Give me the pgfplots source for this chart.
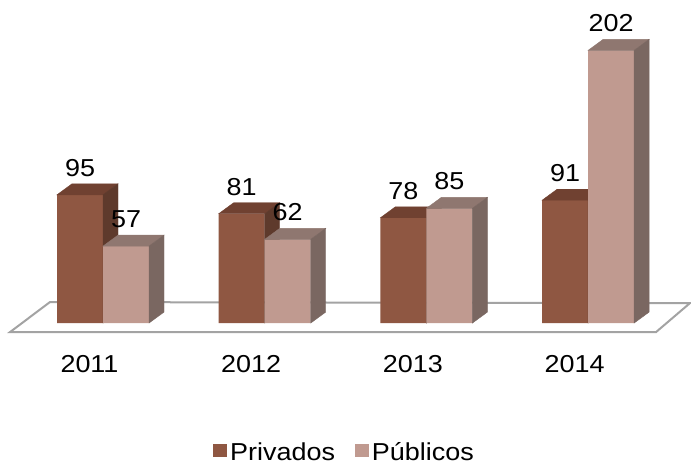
\documentclass[border=0pt]{standalone}
\usepackage{fontspec}
\setmainfont{Liberation Sans}[FakeStretch=1.1]
\usepackage{pgfplots}
\usepackage{pgfplotstable}
\pgfplotsset{compat=1.18}
\definecolor{privfront}{HTML}{8F5742}
\definecolor{privtop}{HTML}{704131}
\definecolor{privside}{HTML}{5E3A2C}
\definecolor{pubfront}{HTML}{C09A90}
\definecolor{pubtop}{HTML}{8F7770}
\definecolor{pubside}{HTML}{7A6761}
\definecolor{floorgray}{HTML}{A3A3A3}
\pgfplotstableread{
x priv pub
0 95 57
1 81 62
2 78 85
3 91 202
}\datatable
\begin{document}
\begin{tikzpicture}[font=\fontsize{24.5}{28}\selectfont]
\begin{axis}[
  x=161.7pt, y=1.35pt,
  xmin=-0.637, xmax=3.636, ymin=-104.4, ymax=239.3,
  axis line style={draw=none}, tick style={draw=none},
  ytick=\empty, xtick={0,1,2,3}, xticklabels={{2011},{2012},{2013},{2014}},
  xticklabel style={anchor=base, yshift=92pt, xshift=-13.5pt, inner sep=0pt},
  clip=false, clip mode=individual,
  /pgf/number format/assume math mode=true,
  legend columns=2,
  legend style={at={(rel axis cs:0.4993,0.0043)}, anchor=south, draw=none, fill=none,
    inner sep=0pt, nodes={inner xsep=3pt, inner ysep=0pt},
    /tikz/every even column/.append style={column sep=17pt}},
  legend image code/.code={\fill[#1] (0pt,-5pt) rectangle (14pt,8pt);},
]
% floor
\addplot[forget plot, fill=white, draw=floorgray, line width=2pt]
  coordinates {(-0.575,-6.67) (3.420,-6.67) (3.630,14.8) (-0.328,15.56)} -- cycle;
% Privados front
\addplot[ybar, bar width=46pt, bar shift=-23pt, fill=privfront, draw=none,
  nodes near coords, every node near coord/.append style={anchor=south, xshift=-23pt, yshift=18pt, inner sep=0pt, text=black}]
  table[x=x, y=priv] {\datatable};
\addlegendentry{Privados}
% Privados top and side
\addplot[forget plot, only marks, scatter, mark=*, mark size=0pt, mark options={draw=none, fill=none},
  visualization depends on={\thisrow{priv} \as \myh},
  scatter/@pre marker code/.code={%
    \pgfmathsetmacro\hb{11-\myh*1.35}%
    \pgfmathsetmacro\hf{-\myh*1.35}%
    \fill[privtop] (-46pt,0pt) -- (0pt,0pt) -- (15pt,11pt) -- (-31pt,11pt) -- cycle;
    \fill[privside] (0pt,0pt) -- (15pt,11pt) -- (15pt,\hb pt) -- (0pt,\hf pt) -- cycle;
  },
  scatter/@post marker code/.code={}]
  table[x=x, y=priv] {\datatable};
% Publicos front
\addplot[ybar, bar width=46pt, bar shift=23pt, fill=pubfront, draw=none,
  nodes near coords, every node near coord/.append style={anchor=south, xshift=23pt, yshift=18pt, inner sep=0pt, text=black}]
  table[x=x, y=pub] {\datatable};
\addlegendentry{Públicos}
% Publicos top and side
\addplot[forget plot, only marks, scatter, mark=*, mark size=0pt, mark options={draw=none, fill=none},
  visualization depends on={\thisrow{pub} \as \myh},
  scatter/@pre marker code/.code={%
    \pgfmathsetmacro\hb{11-\myh*1.35}%
    \pgfmathsetmacro\hf{-\myh*1.35}%
    \fill[pubtop] (0pt,0pt) -- (46pt,0pt) -- (61pt,11pt) -- (15pt,11pt) -- cycle;
    \fill[pubside] (46pt,0pt) -- (61pt,11pt) -- (61pt,\hb pt) -- (46pt,\hf pt) -- cycle;
  },
  scatter/@post marker code/.code={}]
  table[x=x, y=pub] {\datatable};
\end{axis}
\end{tikzpicture}
\end{document}
